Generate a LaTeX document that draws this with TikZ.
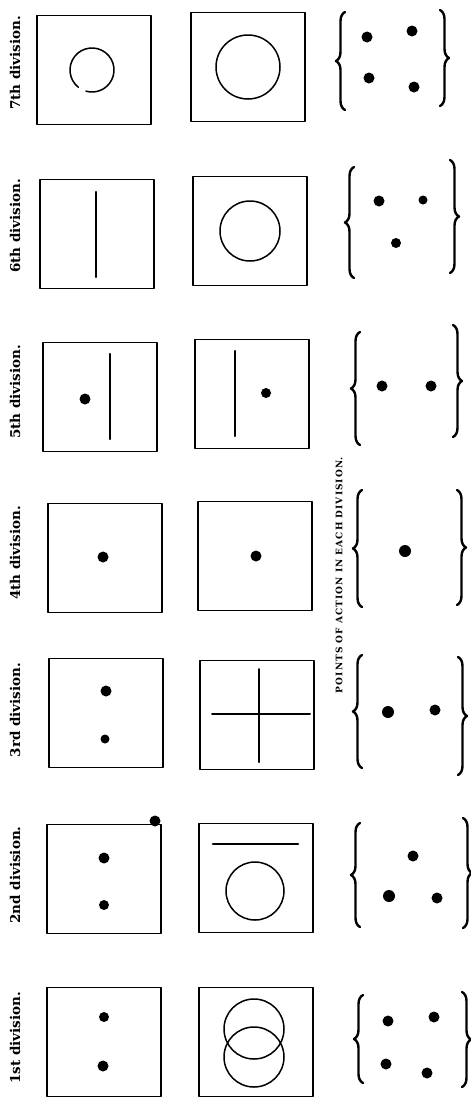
\documentclass[tikz,border=0pt]{standalone}
\usepackage{fontspec}
\usepackage{amsmath}
\usepackage{tikz}
\usetikzlibrary{decorations.pathreplacing}
\newfontfamily\plateface{DejaVu Serif}
\newfontfamily\headface[LetterSpace=12]{DejaVu Serif}

\begin{document}
\begin{tikzpicture}[
			x=1pt, y=-1pt,
			every node/.style={font=\small},
			line cap=round,
			line join=round,
			panel/.style={draw, line width=1.5pt, minimum width=114pt, minimum height=109pt, inner sep=0pt},
			divlabel/.style={rotate=90, font=\plateface\bfseries\fontsize{13.5}{15}\selectfont, inner sep=0pt},
			lbrace/.style={decorate, decoration={brace, amplitude=9pt}, line width=2.4pt},
			rbrace/.style={decorate, decoration={brace, amplitude=9pt}, line width=2.4pt}
			]
			\useasboundingbox (0,0) rectangle (471,1103);
			
			% Heading down the middle
			\node[rotate=90, font=\headface\bfseries\fontsize{9}{10}\selectfont, inner sep=0pt] (head) at (339,575) {POINTS OF ACTION IN EACH DIVISION.};
			
			% 7th division
			\node[divlabel] (l7) at (15,63) {7th division.};
			\node[panel] (a7) at (94,70) {};
			\node[panel] (b7) at (248,67) {};
			\draw[line width=1.5pt] (92,70) ++(128:22) arc (128:466:22);
			\draw[line width=1.5pt] (b7.center) circle (32);
			\draw[lbrace] (345,110) -- (345,12);
			\draw[rbrace] (440,10) -- (440,106);
			\fill (367,37) circle (5.5) (412,31) circle (5.5) (369,78) circle (5.5) (414,87) circle (5.5);
			
			% 6th division
			\node[divlabel] (l6) at (15,226) {6th division.};
			\node[panel] (a6) at (97,234) {};
			\node[panel] (b6) at (250,231) {};
			\draw[line width=2.4pt] (96,192) -- (96,277);
			\draw[line width=1.5pt] (b6.center) circle (30);
			\draw[lbrace] (354,278) -- (354,167);
			\draw[rbrace] (450,160) -- (450,273);
			\fill (379,201) circle (5.5) (423,200) circle (4.5) (396,243) circle (5);
			
			% 5th division
			\node[divlabel] (l5) at (15,392) {5th division.};
			\node[panel] (a5) at (100,397) {};
			\node[panel] (b5) at (252,394) {};
			\draw[line width=2.4pt] (110,354) -- (110,439);
			\draw[line width=2.4pt] (235,351) -- (235,436);
			\fill (85,399) circle (5.5) (266,393) circle (5);
			\draw[lbrace] (360,445) -- (360,332);
			\draw[rbrace] (453,325) -- (453,437);
			\fill (382,386) circle (5.5) (431,386) circle (5.5);
			
			% 4th division
			\node[divlabel] (l4) at (15,553) {4th division.};
			\node[panel] (a4) at (105,558) {};
			\node[panel] (b4) at (255,556) {};
			\fill (103,557) circle (5.5) (256,556) circle (5.5);
			\draw[lbrace] (362,607) -- (362,490);
			\draw[rbrace] (457,490) -- (457,605);
			\fill (405,551) circle (6);
			
			% 3rd division
			\node[divlabel] (l3) at (15,710) {3rd division.};
			\node[panel] (a3) at (106,713) {};
			\node[panel] (b3) at (257,715) {};
			\fill (106,691) circle (5.5) (105,739) circle (4.5);
			\draw[line width=2pt] (212,714) -- (310,714);
			\draw[line width=2pt] (259,669) -- (259,762);
			\draw[lbrace] (362,768) -- (362,655);
			\draw[rbrace] (458,657) -- (458,775);
			\fill (388,712) circle (6) (435,710) circle (5.5);
			
			% 2nd division
			\node[divlabel] (l2) at (15,875) {2nd division.};
			\node[panel] (a2) at (104,879) {};
			\node[panel] (b2) at (256,878) {};
			\fill (104,858) circle (5.5) (104,905) circle (5) (155,821) circle (5.5);
			\draw[line width=2.6pt] (213,844) -- (298,844);
			\draw[line width=1.5pt] (255,891) circle (29);
			\draw[lbrace] (360,927) -- (360,823);
			\draw[rbrace] (463,818) -- (463,928);
			\fill (413,856) circle (5.5) (389,896) circle (6) (437,898) circle (5.5);
			
			% 1st division
			\node[divlabel] (l1) at (15,1038) {1st division.};
			\node[panel] (a1) at (104,1042) {};
			\node[panel] (b1) at (256,1042) {};
			\fill (104,1017) circle (5) (103,1066) circle (5.5);
			\draw[line width=1.5pt] (254,1029) circle (30);
			\draw[line width=1.5pt] (254,1057) circle (30);
			\draw[lbrace] (363,1083) -- (363,995);
			\draw[rbrace] (462,992) -- (462,1087);
			\fill (388,1021) circle (5.5) (434,1017) circle (5.5) (386,1064) circle (5.5) (427,1073) circle (5.5);
		\end{tikzpicture}
\end{document}
